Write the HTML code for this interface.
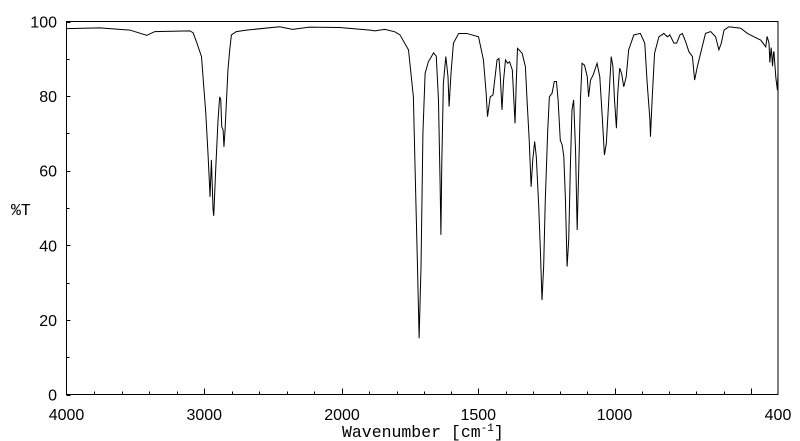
<!DOCTYPE html>
<html><head><meta charset="utf-8"><style>
html,body{margin:0;padding:0;background:#fff;}
svg{display:block;}
.tl{font-family:"Liberation Sans",Arial,sans-serif;font-size:16px;fill:#000;}
.ax{font-family:"Liberation Mono","Courier New",monospace;font-size:16.5px;fill:#000;}
</style></head><body>
<svg id="chart" width="800" height="441" viewBox="0 0 800 441" xmlns="http://www.w3.org/2000/svg">
<rect x="66.5" y="21.5" width="711.5" height="373" fill="none" stroke="#000" stroke-width="1"/>
<g id="ticks"></g>
<g id="labels"></g>
<path id="spectrum" fill="none" stroke="#000" stroke-width="1"/>
<text class="ax" x="11" y="215">%T</text>
<text class="ax" x="342" y="437">Wavenumber [cm<tspan dy="-6" font-size="11">-1</tspan><tspan dy="6">]</tspan></text>
</svg>
<script>
const wavenumbers = [4000,3757,3540,3417,3359,3105,3081,3057,3020,3009,2989,2973,2960,2958,2948,2936,2931,2917,2900,2888,2880,2873,2863,2857,2849,2839,2828,2815,2803,2767,2694,2453,2359,2236,2018,1897,1879,1842,1805,1787,1756,1738,1732,1723,1717,1710,1703,1695,1683,1664,1654,1646,1640,1637,1634,1628,1619,1611,1607,1600,1591,1572,1542,1499,1481,1471,1466,1456,1446,1431,1424,1419,1413,1407,1400,1392,1385,1375,1365,1361,1356,1339,1327,1321,1313,1306,1300,1293,1287,1278,1272,1266,1260,1254,1245,1239,1229,1221,1213,1207,1199,1192,1186,1180,1174,1168,1162,1156,1150,1143,1137,1131,1125,1119,1110,1100,1095,1088,1078,1064,1054,1045,1037,1030,1021,1012,1006,1000,993,988,981,974,966,957,948,929,905,889,880,870,868,862,853,837,819,806,797,782,772,760,751,739,727,714,706,696,684,666,647,629,617,608,598,580,537,512,488,463,445,440,433,430,427,425,420,417,415,410,408,402,400];
const transmittance = [98.1,98.3,97.7,96.3,97.3,97.5,97.0,94.6,90.6,85.2,75.5,64.7,54.8,53.0,62.9,49.5,47.9,60.2,73.6,79.8,79.0,71.8,70.9,66.4,70.9,78.5,87.0,92.4,96.4,97.3,97.7,98.6,97.9,98.5,98.4,97.7,97.5,97.9,97.2,96.4,92.4,79.8,61.1,34.3,15.1,34.3,70.1,86.1,89.2,91.6,90.7,79.0,56.6,42.8,61.1,83.4,90.6,85.2,77.2,86.1,94.2,96.8,96.8,95.9,89.7,80.8,74.5,79.8,80.3,89.7,90.1,85.2,76.3,84.3,89.7,88.8,89.2,87.0,72.7,82.5,92.8,91.5,87.9,79.0,68.2,55.7,62.9,67.8,63.8,50.3,38.7,25.3,34.3,52.1,70.9,79.8,80.8,83.9,83.9,79.0,68.2,66.9,63.8,52.1,34.3,41.4,61.1,76.3,79.0,65.6,44.1,61.1,79.0,88.8,88.3,85.2,79.8,84.3,85.7,88.8,85.2,74.5,64.2,67.3,79.0,90.6,88.0,79.0,71.4,80.8,87.5,86.1,82.5,85.2,92.4,96.4,96.8,94.2,83.4,73.6,69.1,79.0,91.5,95.9,96.8,95.9,96.4,94.2,94.2,96.4,96.8,94.6,91.9,90.6,84.3,87.9,91.5,96.8,97.3,95.9,92.4,94.2,97.7,98.6,98.2,96.8,95.9,95.0,93.2,96.0,94.2,89.0,91.5,93.0,88.0,91.5,92.0,87.0,85.0,81.6,86.4];
const yTickValues = [0,20,40,60,80,100];
const xTickLabels = [4000,3000,2000,1500,1000,400];

const L=66.5,R=778,T=21.5,B=394.5;
const xHigh = 342; // pixel of 2000 (scale break)
function xScale(w){
  if(w>=2000) return L+(4000-w)*(xHigh-L)/2000;
  return xHigh+(2000-w)*(R-xHigh)/1600;
}
function yScale(v){ return B-(v/100)*(B-T); }

const NS="http://www.w3.org/2000/svg";
let d="";
for(let i=0;i<wavenumbers.length;i++){
  d+=(i?"L":"M")+xScale(wavenumbers[i]).toFixed(2)+","+yScale(transmittance[i]).toFixed(2);
}
document.getElementById('spectrum').setAttribute('d',d);

const tg=document.getElementById('ticks');
function tick(x1,y1,x2,y2,name){
  const l=document.createElementNS(NS,'line');
  l.setAttribute('x1',x1);l.setAttribute('y1',y1);l.setAttribute('x2',x2);l.setAttribute('y2',y2);
  l.setAttribute('stroke','#000');
  
  
  tg.appendChild(l);
}
for(let v=0;v<=100;v+=10){
  const y=Math.round(yScale(v))+0.5;
  tick(L,y,L+(v%20===0?4:3),y,'y-tick');
}
for(let w=3800;w>2000;w-=200){ const x=Math.round(xScale(w))+0.5; tick(x,B,x,B-(w%1000===0?6:3),'x-tick'); }
for(let w=2000;w>400;w-=100){ const x=Math.round(xScale(w))+0.5; tick(x,B,x,B-(w%500===0?6:3),'x-tick'); }

const lg=document.getElementById('labels');
yTickValues.forEach(v=>{
  const t=document.createElementNS(NS,'text');
  t.setAttribute('class','tl');t.setAttribute('x',57);t.setAttribute('y',yScale(v)+6);
  t.setAttribute('text-anchor','end');t.textContent=v;
  
  
  lg.appendChild(t);
});
xTickLabels.forEach(w=>{
  const t=document.createElementNS(NS,'text');
  t.setAttribute('class','tl');t.setAttribute('x',xScale(w));t.setAttribute('y',420);
  t.setAttribute('text-anchor','middle');t.textContent=w;
  
  
  lg.appendChild(t);
});
</script>
</body></html>
